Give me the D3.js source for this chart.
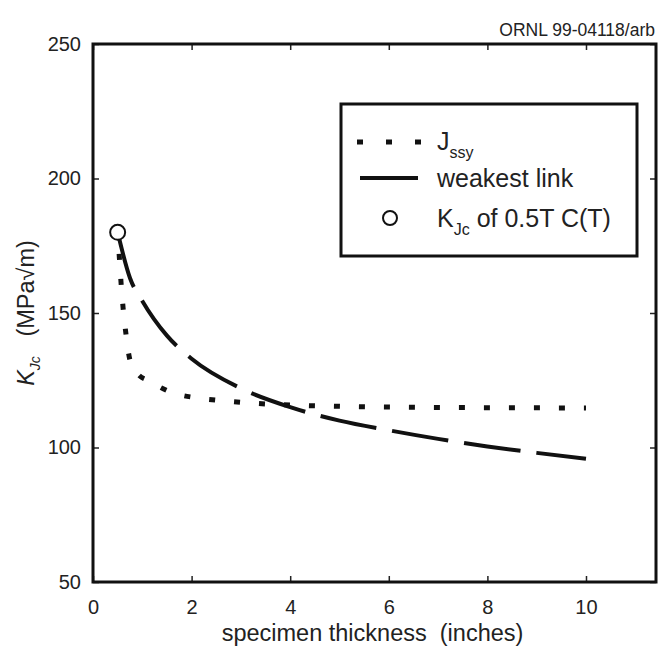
<!DOCTYPE html>
<html><head><meta charset="utf-8">
<script src="https://cdn.jsdelivr.net/npm/d3@7"></script>
<style>
body{margin:0;background:#fff;}
text{font-family:"Liberation Sans",Arial,sans-serif;fill:#222;white-space:pre;}
</style></head>
<body>
<svg id="c" width="659" height="651"></svg>
<script>
// ---- data ----
const xTicks = [0, 2, 4, 6, 8, 10];
const yTicks = [50, 100, 150, 200, 250];
const jssyX = [0.53, 0.57, 0.61, 0.67, 0.75, 0.9, 1.14, 1.62, 2.13, 2.68, 3.5, 5, 7, 10];
const jssyY = [172, 161, 152, 142, 132.5, 127.5, 124.7, 120.3, 118.4, 117.3, 116.2, 115.3, 114.9, 114.7];
const wlX = [0.5, 0.75, 1, 1.5, 2, 3, 4, 5, 6, 7, 8, 9, 10];
const wlY = [180, 163, 154.5, 141.6, 133, 122, 115, 110, 106.4, 103.2, 100.4, 98, 95.8];
const kjcX = [0.5];
const kjcY = [180];
const legendLabels = ["J", "weakest link", "K"];

const svg = d3.select("#c");
const x = d3.scaleLinear().domain([0, 11.42]).range([93, 656]);
const y = d3.scaleLinear().domain([50, 250]).range([582, 44]);

// axes
const gx = svg.append("g").attr("transform", `translate(0,${y(50)})`)
  .call(d3.axisBottom(x).tickValues(xTicks).tickSize(-6).tickPadding(18).tickFormat(d3.format("d")));
const gy = svg.append("g").attr("transform", `translate(${x(0)},0)`)
  .call(d3.axisLeft(y).tickValues(yTicks).tickSize(-6).tickPadding(12).tickFormat(d3.format("d")));
const gxt = svg.append("g").attr("transform", `translate(0,${y(250)})`)
  .call(d3.axisTop(x).tickValues(xTicks).tickSize(-6).tickFormat(""));
const gyr = svg.append("g").attr("transform", `translate(${x.range()[1]},0)`)
  .call(d3.axisRight(y).tickValues(yTicks).tickSize(-6).tickFormat(""));
[gx, gy, gxt, gyr].forEach(g => {
  g.select(".domain").remove();
  g.selectAll(".tick line").attr("stroke", "#222").attr("stroke-width", 1.5);
  g.selectAll(".tick text").style("font-size", "20px").attr("fill", "#222");
});

// frame
svg.append("rect").attr("x", x(0)).attr("y", y(250))
  .attr("width", x.range()[1] - x(0)).attr("height", y(50) - y(250))
  .attr("fill", "none").attr("stroke", "#111").attr("stroke-width", 3);

// lines
const line = d3.line().x(d => x(d[0])).y(d => y(d[1])).curve(d3.curveMonotoneX);
svg.append("path").datum(jssyX.map((v, i) => [v, jssyY[i]]))
  .attr("d", line).attr("fill", "none").attr("stroke", "#111")
  .attr("stroke-width", 5).attr("stroke-dasharray", "6,19").attr("stroke-linecap", "butt");
svg.append("path").datum(wlX.map((v, i) => [v, wlY[i]]))
  .attr("d", line).attr("fill", "none").attr("stroke", "#111")
  .attr("stroke-width", 4).attr("stroke-dasharray", "57,16");
svg.selectAll("circle.k").data(kjcX.map((v, i) => [v, kjcY[i]])).enter()
  .append("circle").attr("class", "k")
  .attr("cx", d => x(d[0])).attr("cy", d => y(d[1])).attr("r", 7.5)
  .attr("fill", "#fff").attr("stroke", "#111").attr("stroke-width", 2);

// axis titles
svg.append("text").attr("x", (x(0) + x.range()[1]) / 2 - 2).attr("y", 641)
  .attr("text-anchor", "middle").style("font-size", "23.5px").text("specimen thickness  (inches)");
const yt = svg.append("text").attr("transform", `translate(34,${(y(50) + y(250)) / 2}) rotate(-90)`)
  .attr("text-anchor", "middle").style("font-size", "23.5px");
yt.append("tspan").style("font-style", "italic").text("K");
yt.append("tspan").attr("dy", 6).style("font-size", "14px").style("font-style", "italic").text("Jc");
yt.append("tspan").attr("dy", -6).text("   (MPa\u221Am)");

// credit
svg.append("text").attr("x", 655).attr("y", 36).attr("text-anchor", "end")
  .style("font-size", "17.5px").text("ORNL 99-04118/arb");

// legend
const lg = svg.append("g");
lg.append("rect").attr("x", 341).attr("y", 104).attr("width", 296).attr("height", 152)
  .attr("fill", "#fff").attr("stroke", "#111").attr("stroke-width", 3);
lg.append("line").attr("x1", 357).attr("x2", 421).attr("y1", 142).attr("y2", 142)
  .attr("stroke", "#111").attr("stroke-width", 5).attr("stroke-dasharray", "6,23");
lg.append("line").attr("x1", 360).attr("x2", 418).attr("y1", 178).attr("y2", 178)
  .attr("stroke", "#111").attr("stroke-width", 4);
lg.append("circle").attr("cx", 390).attr("cy", 218).attr("r", 7)
  .attr("fill", "#fff").attr("stroke", "#111").attr("stroke-width", 2);
const t1 = lg.append("text").attr("x", 437).attr("y", 150).style("font-size", "25px");
t1.append("tspan").text(legendLabels[0]);
t1.append("tspan").attr("dy", 8).style("font-size", "16px").text("ssy");
lg.append("text").attr("x", 437).attr("y", 187).style("font-size", "25px").text(legendLabels[1]);
const t3 = lg.append("text").attr("x", 437).attr("y", 227).style("font-size", "25px");
t3.append("tspan").text(legendLabels[2]);
t3.append("tspan").attr("dy", 8).style("font-size", "16px").text("Jc");
t3.append("tspan").attr("dy", -8).text(" of 0.5T C(T)");
</script>
</body></html>
